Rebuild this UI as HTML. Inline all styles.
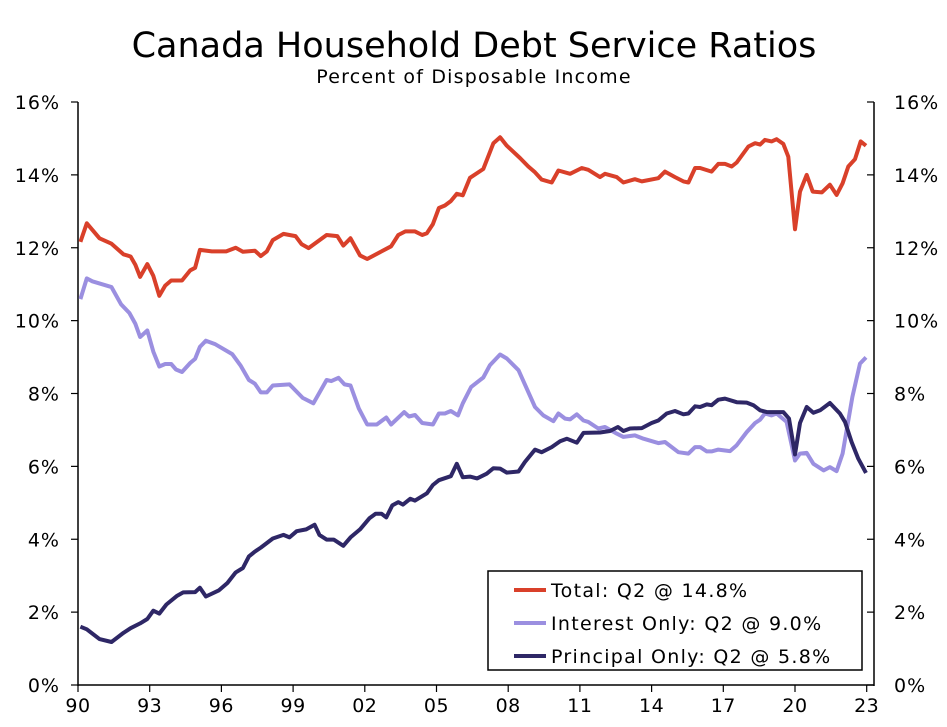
<!DOCTYPE html>
<html><head><meta charset="utf-8"><style>
body{margin:0;background:#fff;}
svg{display:block;font-family:"DejaVu Sans","Liberation Sans",sans-serif;}
</style></head><body>
<svg id="chart" width="947" height="727">
<text x="474" y="57" text-anchor="middle" font-size="35">Canada Household Debt Service Ratios</text>
<text x="474" y="83" text-anchor="middle" font-size="19" letter-spacing="1.2">Percent of Disposable Income</text>
<g id="axes"></g>
<g id="series"></g>
<g letter-spacing="1.3">
<rect x="488" y="571" width="374" height="99" fill="#fff" stroke="#000" stroke-width="1.5"/>
<line x1="514" y1="590" x2="546" y2="590" stroke="#d9402a" stroke-width="4"/>
<text x="551" y="597" font-size="19">Total: Q2 @ 14.8%</text>
<line x1="514" y1="623" x2="546" y2="623" stroke="#9b8fe0" stroke-width="4"/>
<text x="551" y="630" font-size="19">Interest Only: Q2 @ 9.0%</text>
<line x1="514" y1="656" x2="546" y2="656" stroke="#2e2766" stroke-width="4"/>
<text x="551" y="663" font-size="19">Principal Only: Q2 @ 5.8%</text>
</g>
</svg>
<script>
const xTickLabels=["90","93","96","99","02","05","08","11","14","17","20","23"];
const yTickValues=[0,2,4,6,8,10,12,14,16];
const totalYears=[1990.1,1990.37,1990.9,1991.4,1991.9,1992.2,1992.4,1992.6,1992.9,1993.15,1993.4,1993.65,1993.9,1994.35,1994.7,1994.9,1995.1,1995.6,1996.2,1996.6,1996.9,1997.4,1997.65,1997.9,1998.15,1998.6,1999.1,1999.35,1999.65,2000.4,2000.85,2001.1,2001.4,2001.8,2002.1,2003.1,2003.4,2003.7,2004.1,2004.4,2004.6,2004.85,2005.1,2005.35,2005.6,2005.85,2006.1,2006.4,2006.96,2007.38,2007.66,2007.94,2008.5,2008.84,2009.12,2009.4,2009.82,2010.1,2010.59,2011.08,2011.35,2011.84,2012.05,2012.54,2012.82,2013.3,2013.59,2014.28,2014.56,2014.98,2015.33,2015.54,2015.82,2016.03,2016.51,2016.79,2017.07,2017.35,2017.56,2018.05,2018.33,2018.54,2018.74,2019.02,2019.23,2019.51,2019.72,2020.0,2020.21,2020.49,2020.74,2021.12,2021.46,2021.74,2021.99,2022.23,2022.51,2022.75,2022.97];
const totalValues=[12.16,12.67,12.26,12.11,11.82,11.76,11.53,11.2,11.55,11.23,10.68,10.96,11.1,11.1,11.38,11.45,11.94,11.9,11.9,12.0,11.89,11.92,11.77,11.9,12.21,12.38,12.32,12.1,11.99,12.35,12.32,12.06,12.26,11.79,11.69,12.04,12.35,12.45,12.45,12.35,12.4,12.65,13.09,13.16,13.28,13.48,13.44,13.92,14.16,14.87,15.03,14.8,14.46,14.23,14.07,13.87,13.79,14.12,14.03,14.19,14.14,13.94,14.03,13.94,13.79,13.88,13.82,13.91,14.09,13.94,13.82,13.79,14.19,14.19,14.09,14.3,14.3,14.23,14.34,14.78,14.87,14.83,14.96,14.92,14.98,14.85,14.5,12.51,13.54,14.0,13.54,13.52,13.73,13.45,13.77,14.23,14.43,14.92,14.8];
const interestYears=[1990.1,1990.37,1990.6,1991.4,1991.8,1992.15,1992.4,1992.6,1992.9,1993.15,1993.4,1993.65,1993.9,1994.1,1994.35,1994.7,1994.9,1995.1,1995.35,1995.75,1996.45,1996.8,1997.15,1997.4,1997.65,1997.9,1998.15,1998.85,1999.4,1999.85,2000.4,2000.6,2000.9,2001.15,2001.4,2001.75,2002.1,2002.5,2002.9,2003.1,2003.65,2003.85,2004.1,2004.4,2004.85,2005.1,2005.35,2005.6,2005.9,2006.1,2006.45,2006.96,2007.24,2007.66,2007.94,2008.43,2009.12,2009.47,2009.89,2010.1,2010.38,2010.59,2010.87,2011.15,2011.35,2011.77,2012.05,2012.54,2012.82,2013.3,2013.66,2014.28,2014.56,2015.12,2015.54,2015.82,2016.03,2016.31,2016.51,2016.79,2017.28,2017.56,2017.98,2018.33,2018.54,2018.74,2019.02,2019.23,2019.65,2020.0,2020.21,2020.49,2020.77,2021.2,2021.46,2021.74,2021.99,2022.4,2022.72,2022.97];
const interestValues=[10.59,11.16,11.08,10.92,10.45,10.21,9.91,9.55,9.73,9.15,8.74,8.81,8.81,8.66,8.59,8.84,8.95,9.28,9.45,9.35,9.08,8.77,8.37,8.27,8.03,8.03,8.22,8.25,7.88,7.73,8.37,8.34,8.43,8.25,8.22,7.59,7.15,7.15,7.34,7.15,7.49,7.37,7.41,7.19,7.15,7.45,7.45,7.52,7.4,7.73,8.18,8.44,8.78,9.07,8.96,8.64,7.63,7.4,7.24,7.45,7.31,7.29,7.43,7.26,7.22,7.04,7.08,6.9,6.81,6.85,6.76,6.64,6.67,6.39,6.35,6.53,6.53,6.41,6.41,6.46,6.42,6.58,6.94,7.19,7.28,7.45,7.4,7.45,7.22,6.16,6.35,6.37,6.07,5.89,5.98,5.87,6.35,7.91,8.82,8.99];
const principalYears=[1990.1,1990.37,1990.9,1991.4,1991.9,1992.2,1992.6,1992.9,1993.15,1993.4,1993.7,1994.15,1994.4,1994.9,1995.1,1995.35,1995.9,1996.25,1996.6,1996.9,1997.15,1997.4,1997.65,1998.15,1998.6,1998.85,1999.15,1999.55,1999.9,2000.1,2000.4,2000.7,2001.1,2001.4,2001.8,2002.2,2002.45,2002.7,2002.9,2003.15,2003.4,2003.6,2003.9,2004.1,2004.6,2004.85,2005.1,2005.6,2005.85,2006.1,2006.4,2006.7,2007.1,2007.38,2007.66,2007.94,2008.43,2008.7,2009.12,2009.4,2009.82,2010.17,2010.45,2010.87,2011.15,2011.84,2012.26,2012.59,2012.82,2013.1,2013.59,2014.0,2014.28,2014.63,2014.98,2015.33,2015.54,2015.82,2016.03,2016.31,2016.51,2016.79,2017.07,2017.56,2017.98,2018.26,2018.54,2018.82,2019.51,2019.75,2020.0,2020.21,2020.49,2020.77,2021.05,2021.46,2021.88,2022.09,2022.37,2022.65,2022.97];
const principalValues=[1.6,1.53,1.26,1.18,1.43,1.56,1.69,1.81,2.04,1.96,2.21,2.45,2.54,2.55,2.67,2.43,2.6,2.8,3.09,3.21,3.53,3.66,3.77,4.02,4.12,4.05,4.22,4.27,4.4,4.12,3.99,3.99,3.82,4.05,4.27,4.58,4.7,4.7,4.6,4.93,5.02,4.95,5.11,5.06,5.26,5.49,5.62,5.73,6.07,5.7,5.72,5.67,5.8,5.95,5.94,5.83,5.86,6.12,6.46,6.39,6.53,6.69,6.76,6.65,6.92,6.93,6.97,7.08,6.97,7.04,7.05,7.19,7.26,7.45,7.52,7.43,7.45,7.65,7.63,7.7,7.68,7.83,7.86,7.76,7.75,7.68,7.54,7.49,7.49,7.31,6.33,7.19,7.63,7.47,7.54,7.74,7.45,7.22,6.67,6.21,5.82];

const NS="http://www.w3.org/2000/svg";
const X0=78,X1=874,Y0=685,Y1=102;
function xScale(yr){return X0+(yr-1990)*23.9;}
function yScale(v){return Y0-(v/16)*(Y0-Y1);}
function mk(tag,attrs,parent){const e=document.createElementNS(NS,tag);for(const k in attrs)e.setAttribute(k,attrs[k]);parent.appendChild(e);return e;}
const axes=document.getElementById('axes');
let e;
e=mk('line',{x1:X0,y1:Y1,x2:X0,y2:Y0+1,stroke:'#000','stroke-width':1.5},axes);


e=mk('line',{x1:X1,y1:Y1,x2:X1,y2:Y0+1,stroke:'#000','stroke-width':1.5},axes);


e=mk('line',{x1:X0,y1:Y0,x2:X1,y2:Y0,stroke:'#000','stroke-width':1.5},axes);


yTickValues.forEach(v=>{
  const y=yScale(v);
  mk('line',{x1:X0-7,y1:y,x2:X0,y2:y,stroke:'#000','stroke-width':1.2},axes);
  mk('line',{x1:X1-7,y1:y,x2:X1,y2:y,stroke:'#000','stroke-width':1.2},axes);
  let t=mk('text',{x:X0-18,y:y+7,'text-anchor':'end','font-size':19,'letter-spacing':1},axes);
  t.textContent=v+'%';
  
  
  t=mk('text',{x:X1+20,y:y+7,'text-anchor':'start','font-size':19,'letter-spacing':1},axes);
  t.textContent=v+'%';
  
  
});
xTickLabels.forEach((lab,i)=>{
  const x=xScale(1990+i*3);
  mk('line',{x1:x,y1:Y0,x2:x,y2:Y0+7,stroke:'#000','stroke-width':1.2},axes);
  const t=mk('text',{x:x,y:Y0+27,'text-anchor':'middle','font-size':19,'letter-spacing':0.5},axes);
  t.textContent=lab;
  
  
});
const sg=document.getElementById('series');
function draw(xs,vs,color,name){
  const d=xs.map((yr,i)=>(i?'L':'M')+xScale(yr).toFixed(1)+','+yScale(vs[i]).toFixed(1)).join(' ');
  const p=mk('path',{d:d,fill:'none',stroke:color,'stroke-width':4,'stroke-linejoin':'round'},sg);
  
  
}
draw(totalYears,totalValues,'#d9402a','total-line');
draw(interestYears,interestValues,'#9b8fe0','interest-line');
draw(principalYears,principalValues,'#2e2766','principal-line');
</script>
</body></html>
